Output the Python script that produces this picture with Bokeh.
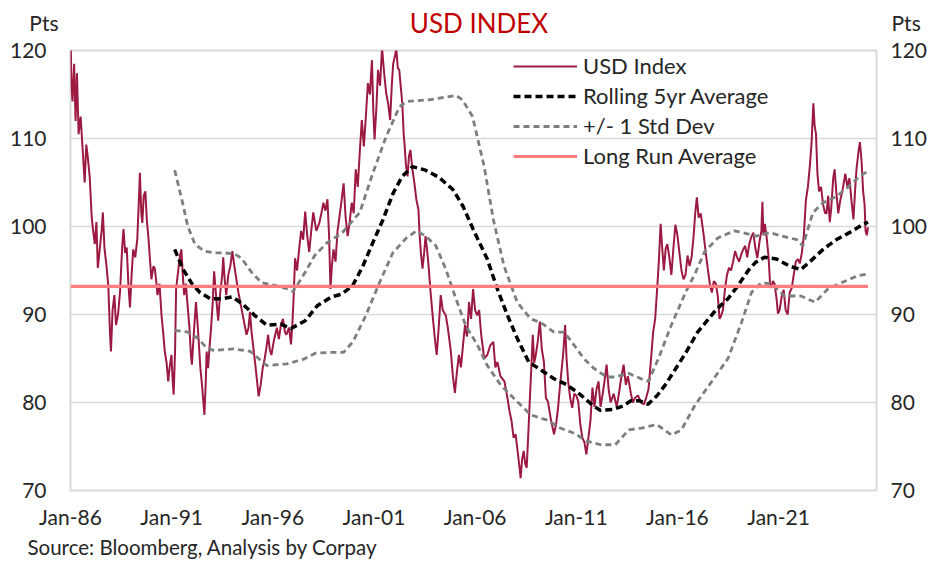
from bokeh.plotting import figure
from bokeh.models import LinearAxis, FixedTicker, Label, Legend, LegendItem, Range1d, Title
from bokeh.layouts import column
from bokeh.embed import file_html
from bokeh.resources import INLINE

FONT = "Lato"

# ---------------- data ----------------
usd_year = [
    1986.0, 1986.05, 1986.1, 1986.18, 1986.25, 1986.32, 1986.4, 1986.5, 1986.6, 1986.7,
    1986.78, 1986.85, 1986.95, 1987.05, 1987.12, 1987.2, 1987.28, 1987.35, 1987.45, 1987.55,
    1987.6, 1987.68, 1987.78, 1987.87, 1987.95, 1988.0, 1988.08, 1988.17, 1988.25, 1988.35,
    1988.45, 1988.55, 1988.62, 1988.7, 1988.78, 1988.86, 1988.94, 1989.02, 1989.1, 1989.2,
    1989.3, 1989.38, 1989.43, 1989.5, 1989.55, 1989.62, 1989.7, 1989.78, 1989.85, 1989.92,
    1990.0, 1990.1, 1990.17, 1990.25, 1990.3, 1990.4, 1990.5, 1990.58, 1990.66, 1990.75,
    1990.83, 1990.9, 1990.99, 1991.05, 1991.1, 1991.17, 1991.22, 1991.3, 1991.4, 1991.48,
    1991.55, 1991.62, 1991.7, 1991.8, 1991.88, 1991.95, 1992.0, 1992.1, 1992.2, 1992.28,
    1992.35, 1992.42, 1992.5, 1992.57, 1992.62, 1992.68, 1992.73, 1992.8, 1992.88, 1992.95,
    1993.02, 1993.1, 1993.2, 1993.3, 1993.4, 1993.5, 1993.55, 1993.62, 1993.7, 1993.8,
    1993.9, 1994.0, 1994.1, 1994.2, 1994.3, 1994.45, 1994.55, 1994.7, 1994.8, 1994.87,
    1994.95, 1995.05, 1995.15, 1995.3, 1995.4, 1995.5, 1995.6, 1995.7, 1995.77, 1995.85,
    1995.93, 1996.05, 1996.2, 1996.3, 1996.4, 1996.5, 1996.6, 1996.67, 1996.8, 1996.9,
    1996.97, 1997.03, 1997.1, 1997.2, 1997.3, 1997.4, 1997.5, 1997.6, 1997.7, 1997.8,
    1997.9, 1998.0, 1998.15, 1998.3, 1998.4, 1998.5, 1998.6, 1998.7, 1998.78, 1998.85,
    1998.92, 1999.0, 1999.1, 1999.2, 1999.3, 1999.4, 1999.5, 1999.6, 1999.7, 1999.8,
    1999.9, 2000.0, 2000.1, 2000.2, 2000.3, 2000.4, 2000.5, 2000.6, 2000.7, 2000.8,
    2000.9, 2000.97, 2001.03, 2001.12, 2001.2, 2001.3, 2001.4, 2001.5, 2001.6, 2001.7,
    2001.8, 2001.88, 2001.95, 2002.05, 2002.1, 2002.18, 2002.25, 2002.32, 2002.4, 2002.47,
    2002.52, 2002.58, 2002.66, 2002.73, 2002.8, 2002.9, 2003.0, 2003.1, 2003.2, 2003.25,
    2003.32, 2003.4, 2003.48, 2003.55, 2003.62, 2003.7, 2003.8, 2003.9, 2004.0, 2004.1,
    2004.2, 2004.3, 2004.4, 2004.55, 2004.65, 2004.8, 2004.9, 2005.0, 2005.1, 2005.2,
    2005.3, 2005.4, 2005.5, 2005.6, 2005.7, 2005.8, 2005.9, 2006.0, 2006.1, 2006.2,
    2006.3, 2006.45, 2006.6, 2006.75, 2006.9, 2007.0, 2007.1, 2007.25, 2007.45, 2007.6,
    2007.7, 2007.8, 2007.9, 2008.0, 2008.1, 2008.2, 2008.25, 2008.32, 2008.4, 2008.48,
    2008.55, 2008.62, 2008.7, 2008.78, 2008.85, 2008.92, 2009.0, 2009.1, 2009.2, 2009.3,
    2009.4, 2009.5, 2009.6, 2009.75, 2009.9, 2010.0, 2010.1, 2010.2, 2010.35, 2010.45,
    2010.52, 2010.6, 2010.7, 2010.8, 2010.9, 2011.0, 2011.1, 2011.2, 2011.3, 2011.4,
    2011.5, 2011.6, 2011.7, 2011.8, 2011.9, 2012.0, 2012.1, 2012.2, 2012.3, 2012.4,
    2012.5, 2012.6, 2012.7, 2012.85, 2013.0, 2013.1, 2013.2, 2013.34, 2013.45, 2013.55,
    2013.7, 2013.8, 2013.9, 2014.05, 2014.2, 2014.35, 2014.45, 2014.57, 2014.68, 2014.8,
    2014.9, 2015.0, 2015.08, 2015.17, 2015.25, 2015.33, 2015.42, 2015.5, 2015.6, 2015.7,
    2015.8, 2015.9, 2016.0, 2016.1, 2016.2, 2016.3, 2016.4, 2016.5, 2016.6, 2016.7,
    2016.8, 2016.88, 2016.96, 2017.05, 2017.15, 2017.3, 2017.4, 2017.5, 2017.6, 2017.7,
    2017.8, 2017.9, 2018.0, 2018.08, 2018.15, 2018.25, 2018.35, 2018.45, 2018.55, 2018.65,
    2018.75, 2018.85, 2018.95, 2019.05, 2019.15, 2019.25, 2019.35, 2019.45, 2019.55, 2019.65,
    2019.75, 2019.85, 2019.95, 2020.07, 2020.15, 2020.2, 2020.25, 2020.32, 2020.4, 2020.5,
    2020.58, 2020.64, 2020.72, 2020.8, 2020.9, 2020.97, 2021.05, 2021.15, 2021.25, 2021.35,
    2021.45, 2021.55, 2021.65, 2021.75, 2021.85, 2021.96, 2022.05, 2022.15, 2022.25, 2022.35,
    2022.45, 2022.55, 2022.63, 2022.72, 2022.78, 2022.85, 2022.92, 2023.0, 2023.1, 2023.2,
    2023.3, 2023.37, 2023.45, 2023.53, 2023.6, 2023.7, 2023.77, 2023.85, 2023.95, 2024.05,
    2024.15, 2024.3, 2024.4, 2024.5, 2024.6, 2024.7, 2024.78, 2024.85, 2024.95, 2025.02,
    2025.1, 2025.18, 2025.25, 2025.3, 2025.36, 2025.42,
]
usd_value = [
    122.0, 116.0, 114.2, 118.5, 112.0, 117.4, 110.5, 112.5, 108.8, 105.0,
    109.3, 108.0, 105.6, 101.0, 99.5, 98.0, 100.5, 95.3, 97.5, 99.8,
    101.6, 97.5, 95.5, 93.2, 88.0, 85.8, 90.5, 92.2, 88.8, 90.0,
    92.6, 97.5, 99.7, 97.0, 97.6, 93.5, 90.8, 94.5, 97.4, 96.5,
    98.5, 103.0, 106.1, 101.5, 100.4, 103.5, 104.0, 100.5, 98.8, 96.5,
    94.0, 95.5, 95.2, 93.5, 92.2, 93.5, 89.9, 88.0, 85.8, 84.5,
    82.4, 84.0, 85.4, 82.5, 80.9, 86.0, 92.9, 94.5, 96.5, 97.4,
    94.5, 92.2, 93.5, 90.7, 88.5, 85.5, 84.3, 88.0, 91.4, 89.0,
    86.5, 83.9, 82.0, 80.0, 78.6, 82.0, 85.8, 83.9, 86.5, 88.5,
    91.0, 94.9, 92.0, 89.3, 92.5, 94.5, 96.5, 94.0, 92.2, 94.5,
    95.5, 97.2, 95.5, 94.0, 92.5, 90.7, 89.5, 87.7, 88.5, 90.3,
    88.0, 86.0, 84.0, 80.7, 82.0, 83.9, 85.0, 86.5, 87.7, 86.0,
    85.4, 87.0, 88.5, 87.2, 88.8, 89.5, 88.0, 87.7, 88.5, 86.6,
    89.0, 92.0, 96.4, 95.0, 97.4, 99.5, 98.5, 101.7, 99.0, 97.1,
    99.5, 101.6, 99.5, 100.4, 101.5, 102.7, 101.8, 103.1, 99.0, 92.9,
    95.5, 97.4, 96.0, 99.5, 101.2, 103.0, 104.9, 101.0, 98.9, 100.5,
    102.7, 101.5, 106.5, 104.5, 108.5, 112.1, 109.1, 112.5, 116.3, 115.0,
    118.9, 113.0, 109.9, 113.5, 117.8, 116.0, 120.3, 117.5, 115.2, 114.0,
    112.1, 116.0, 118.5, 119.5, 120.3, 118.0, 117.8, 116.0, 114.0, 110.5,
    109.1, 107.0, 105.7, 108.0, 108.7, 106.5, 104.9, 103.0, 101.9, 99.3,
    97.0, 95.2, 97.0, 98.9, 97.5, 95.5, 92.5, 89.9, 87.5, 85.4,
    88.5, 92.2, 90.5, 89.9, 88.5, 85.8, 83.0, 81.1, 83.5, 85.4,
    84.0, 86.5, 88.8, 87.5, 91.4, 89.5, 92.9, 90.5, 89.9, 90.5,
    87.7, 85.0, 85.4, 86.5, 86.9, 84.0, 84.6, 83.0, 82.4, 80.5,
    79.0, 77.9, 76.0, 76.4, 74.5, 72.5, 71.4, 73.5, 74.5, 73.0,
    72.6, 76.0, 80.1, 84.0, 87.7, 84.5, 85.4, 87.0, 89.2, 86.0,
    84.6, 80.5, 80.1, 78.0, 76.4, 77.5, 79.4, 82.0, 85.4, 88.8,
    85.0, 82.4, 80.5, 79.4, 81.0, 80.8, 80.1, 77.5, 76.0, 75.5,
    74.1, 76.0, 77.9, 81.7, 79.5, 81.5, 82.4, 79.5, 80.9, 82.5,
    84.3, 81.5, 80.0, 81.0, 79.5, 80.9, 82.5, 84.3, 82.0, 83.0,
    81.0, 80.0, 80.5, 80.8, 80.0, 79.8, 80.5, 81.5, 84.5, 88.0,
    89.5, 93.0, 96.0, 100.3, 97.5, 95.0, 97.5, 98.0, 96.5, 94.5,
    97.5, 100.2, 99.0, 97.0, 95.0, 94.0, 94.5, 96.7, 95.5, 96.5,
    98.9, 101.5, 103.3, 101.0, 101.5, 99.0, 97.0, 95.2, 93.5, 92.5,
    93.8, 93.5, 92.0, 89.5, 89.8, 90.5, 92.9, 94.5, 95.3, 95.0,
    96.0, 97.2, 96.5, 96.0, 96.8, 97.4, 97.8, 96.5, 98.0, 98.8,
    99.3, 97.6, 96.4, 98.5, 99.5, 102.8, 99.0, 100.3, 99.0, 96.7,
    93.5, 93.0, 93.8, 93.5, 91.8, 90.1, 90.5, 92.0, 92.8, 90.5,
    90.0, 92.5, 93.0, 94.5, 96.0, 96.3, 95.8, 97.0, 99.0, 103.0,
    104.5, 107.0, 109.5, 114.0, 111.5, 110.5, 106.0, 104.0, 104.5, 102.5,
    101.5, 101.5, 103.5, 100.5, 102.0, 105.5, 106.5, 104.0, 101.5, 103.0,
    104.0, 106.0, 104.5, 105.5, 103.0, 100.8, 104.0, 106.5, 108.5, 109.6,
    107.5, 104.0, 102.5, 99.5, 99.0, 99.9,
]

roll_year = [
    1991.15, 1991.55, 1992.0, 1992.4, 1992.9, 1993.5, 1994.0, 1994.5, 1995.1, 1995.7,
    1996.4, 1996.9, 1997.6, 1998.2, 1998.9, 1999.4, 1999.95, 2000.45, 2000.95, 2001.45,
    2001.95, 2002.4, 2002.9, 2003.55, 2004.2, 2004.9, 2005.4, 2005.9, 2006.6, 2007.1,
    2007.6, 2008.1, 2008.65, 2009.25, 2009.9, 2010.55, 2011.2, 2011.85, 2012.2, 2012.8,
    2013.3, 2013.7, 2014.1, 2014.55, 2015.0, 2015.4, 2015.9, 2016.4, 2017.0, 2017.5,
    2017.9, 2018.5, 2019.0, 2019.5, 2019.85, 2020.3, 2020.9, 2021.55, 2022.1, 2022.5,
    2023.2, 2023.85, 2024.5, 2025.15, 2025.42,
]
roll_value = [
    97.4, 95.2, 93.5, 92.5, 91.8, 91.8, 92.0, 91.2, 89.9, 88.8,
    88.9, 88.4, 89.3, 91.0, 92.0, 92.3, 93.3, 95.5, 98.2, 100.8,
    103.8, 105.7, 106.8, 106.4, 105.6, 104.2, 102.3, 99.7, 96.3, 92.9,
    89.9, 87.2, 84.6, 83.7, 82.7, 82.0, 80.9, 79.6, 79.1, 79.2,
    79.6, 80.2, 80.2, 79.8, 80.8, 82.0, 83.8, 85.6, 88.0, 89.4,
    90.5, 91.8, 93.3, 95.0, 95.9, 96.5, 96.3, 95.5, 95.1, 95.9,
    97.4, 98.5, 99.3, 100.2, 100.5,
]

upper_year = [
    1991.15, 1991.5, 1991.8, 1992.15, 1992.6, 1993.1, 1993.6, 1994.1, 1994.45, 1994.95,
    1995.45, 1996.1, 1996.75, 1997.0, 1997.6, 1998.07, 1998.7, 1999.4, 2000.3, 2000.95,
    2001.6, 2002.26, 2002.6, 2003.73, 2004.56, 2005.05, 2005.37, 2005.87, 2006.45, 2006.9,
    2007.43, 2008.08, 2008.74, 2009.23, 2009.9, 2010.4, 2010.9, 2011.37, 2011.86, 2012.5,
    2012.9, 2013.6, 2014.2, 2014.57, 2015.06, 2015.7, 2016.4, 2016.9, 2017.36, 2018.0,
    2018.8, 2019.25, 2019.9, 2020.56, 2021.2, 2021.9, 2022.2, 2022.7, 2023.2, 2023.85,
    2024.5, 2025.0, 2025.42,
]
upper_value = [
    106.4, 103.1, 100.0, 98.0, 97.2, 97.0, 97.0, 96.9, 96.4, 94.8,
    93.6, 93.3, 92.9, 92.6, 94.8, 96.7, 98.2, 99.2, 101.6, 106.1,
    110.2, 113.6, 114.2, 114.4, 114.7, 114.9, 114.4, 112.5, 106.8, 100.8,
    95.5, 91.4, 89.5, 89.1, 88.0, 88.0, 86.5, 85.0, 83.9, 82.9,
    82.9, 83.3, 82.7, 82.4, 85.0, 88.8, 92.5, 94.8, 97.2, 98.7,
    99.5, 99.3, 98.9, 99.3, 98.9, 98.5, 97.8, 101.6, 102.7, 103.4,
    104.6, 105.7, 106.3,
]

lower_year = [
    1991.15, 1991.8, 1992.3, 1992.73, 1993.1, 1994.05, 1994.9, 1995.7, 1996.7, 1997.5,
    1998.1, 1998.9, 1999.5, 1999.96, 2000.6, 2001.27, 2001.93, 2002.6, 2003.1, 2003.57,
    2004.06, 2004.56, 2005.05, 2005.54, 2006.1, 2006.6, 2007.26, 2007.9, 2008.74, 2009.56,
    2010.2, 2010.9, 2011.53, 2012.2, 2012.93, 2013.6, 2014.24, 2014.98, 2015.72, 2016.2,
    2016.87, 2017.7, 2018.5, 2019.17, 2019.66, 2020.15, 2020.64, 2021.3, 2022.1, 2022.8,
    2023.44, 2024.1, 2024.9, 2025.42,
]
lower_value = [
    88.2, 88.0, 87.3, 86.2, 85.9, 86.1, 85.8, 84.2, 84.4, 84.9,
    85.6, 85.7, 85.7, 86.9, 89.9, 93.6, 97.0, 98.7, 99.5, 98.9,
    97.8, 95.1, 91.8, 88.7, 86.6, 84.2, 82.0, 80.5, 78.6, 78.0,
    77.1, 76.5, 75.6, 75.2, 75.2, 76.9, 77.1, 77.5, 76.3, 76.9,
    79.7, 82.4, 85.0, 89.1, 92.5, 93.6, 93.5, 92.1, 92.1, 91.4,
    92.9, 93.6, 94.4, 94.6,
]

long_run_average = 93.2

tick_years = [1986, 1991, 1996, 2001, 2006, 2011, 2016, 2021]
tick_labels = ["Jan-86", "Jan-91", "Jan-96", "Jan-01", "Jan-06", "Jan-11", "Jan-16", "Jan-21"]
y_ticks = [70, 80, 90, 100, 110, 120]

title_text = "USD INDEX"
unit_text = "Pts"
source_text = "Source: Bloomberg, Analysis by Corpay"

# ---------------- styling ----------------
TEXT = "#262626"
GRID = "#D9D9D9"
W = 930

# ---- top strip: units (as one-tick axes) and title ----
TOP_H = 38
UNIT_Y = 16
top = figure(width=W, height=TOP_H, x_range=Range1d(70, 877), y_range=Range1d(0, TOP_H),
             x_axis_type=None, output_backend="svg", toolbar_location=None,
             min_border=0, min_border_left=70, min_border_right=53)
top.outline_line_color = None
top.xgrid.visible = False
top.ygrid.visible = False
top.yaxis.ticker = FixedTicker(ticks=[UNIT_Y])
top.yaxis.major_label_overrides = {UNIT_Y: unit_text}
top_right = LinearAxis(ticker=FixedTicker(ticks=[UNIT_Y]),
                       major_label_overrides={UNIT_Y: unit_text})
top.add_layout(top_right, "right")
for ax in top.yaxis:
    ax.axis_line_color = None
    ax.major_tick_line_color = None
    ax.minor_tick_line_color = None
    ax.major_label_text_font = FONT
    ax.major_label_text_font_size = "21px"
    ax.major_label_text_color = TEXT
top.yaxis[0].major_label_standoff = 6
top_right.major_label_standoff = 9
top.add_layout(Label(x=479, y=16, text=title_text, text_align="center",
                     text_baseline="middle", text_font=FONT, text_font_size="26px",
                     text_color="#C00000"))

# ---- main chart ----
p = figure(width=W, height=522,
           x_range=Range1d(1986.0, 2025.84), y_range=Range1d(70, 120),
           output_backend="svg", toolbar_location=None,
           min_border_left=70, min_border_right=53, min_border_top=12, min_border_bottom=68)
p.background_fill_color = "white"
p.border_fill_color = "white"
p.outline_line_color = GRID
p.outline_line_width = 2

p.xaxis.ticker = FixedTicker(ticks=tick_years)
p.xaxis.major_label_overrides = {t: l for t, l in zip(tick_years, tick_labels)}
p.yaxis.ticker = FixedTicker(ticks=y_ticks)

right_axis = LinearAxis(ticker=FixedTicker(ticks=y_ticks))
p.add_layout(right_axis, "right")

for ax in p.xaxis + p.yaxis:
    ax.axis_line_color = None
    ax.major_tick_line_color = None
    ax.minor_tick_line_color = None
    ax.major_label_text_font = FONT
    ax.major_label_text_font_size = "21px"
    ax.major_label_text_color = TEXT
p.yaxis[0].major_label_standoff = 18
right_axis.major_label_standoff = 8
p.xaxis.major_label_standoff = 7

p.xgrid.grid_line_color = None
p.ygrid.grid_line_color = GRID
p.ygrid.grid_line_width = 1.5
p.ygrid.ticker = FixedTicker(ticks=[80, 90, 100, 110])

r_usd = p.line(usd_year, usd_value, line_color="#9C1A41", line_width=2)
r_roll = p.line(roll_year, roll_value, line_color="black", line_width=3.5, line_dash="7 4")
r_up = p.line(upper_year, upper_value, line_color="#7B807D", line_width=2.8, line_dash="6 4")
r_lo = p.line(lower_year, lower_value, line_color="#7B807D", line_width=2.8, line_dash="6 4")
r_lr = p.line([usd_year[0], usd_year[-1]], [long_run_average, long_run_average],
              line_color="#FF7C80", line_width=3.2)

legend = Legend(items=[
    LegendItem(label="USD Index", renderers=[r_usd]),
    LegendItem(label="Rolling 5yr Average", renderers=[r_roll]),
    LegendItem(label="+/- 1 Std Dev", renderers=[r_up]),
    LegendItem(label="Long Run Average", renderers=[r_lr]),
], location=(438, 316))
legend.background_fill_alpha = 0
legend.border_line_alpha = 0
legend.padding = 5
legend.margin = 0
legend.spacing = 3
legend.glyph_width = 64
legend.glyph_height = 20
legend.label_height = 20
legend.label_standoff = 6
legend.label_text_font = FONT
legend.label_text_font_size = "22px"
legend.label_text_color = TEXT
legend.label_text_baseline = "middle"
p.add_layout(legend, "center")

# ---- source note under the x axis ----
source = Title(text=source_text, align="left", offset=-43, standoff=3,
               text_font=FONT, text_font_size="20.5px", text_font_style="normal",
               text_color=TEXT)
p.add_layout(source, "below")

layout = column(top, p, spacing=0)
open("out.html", "w").write(file_html(layout, INLINE))
